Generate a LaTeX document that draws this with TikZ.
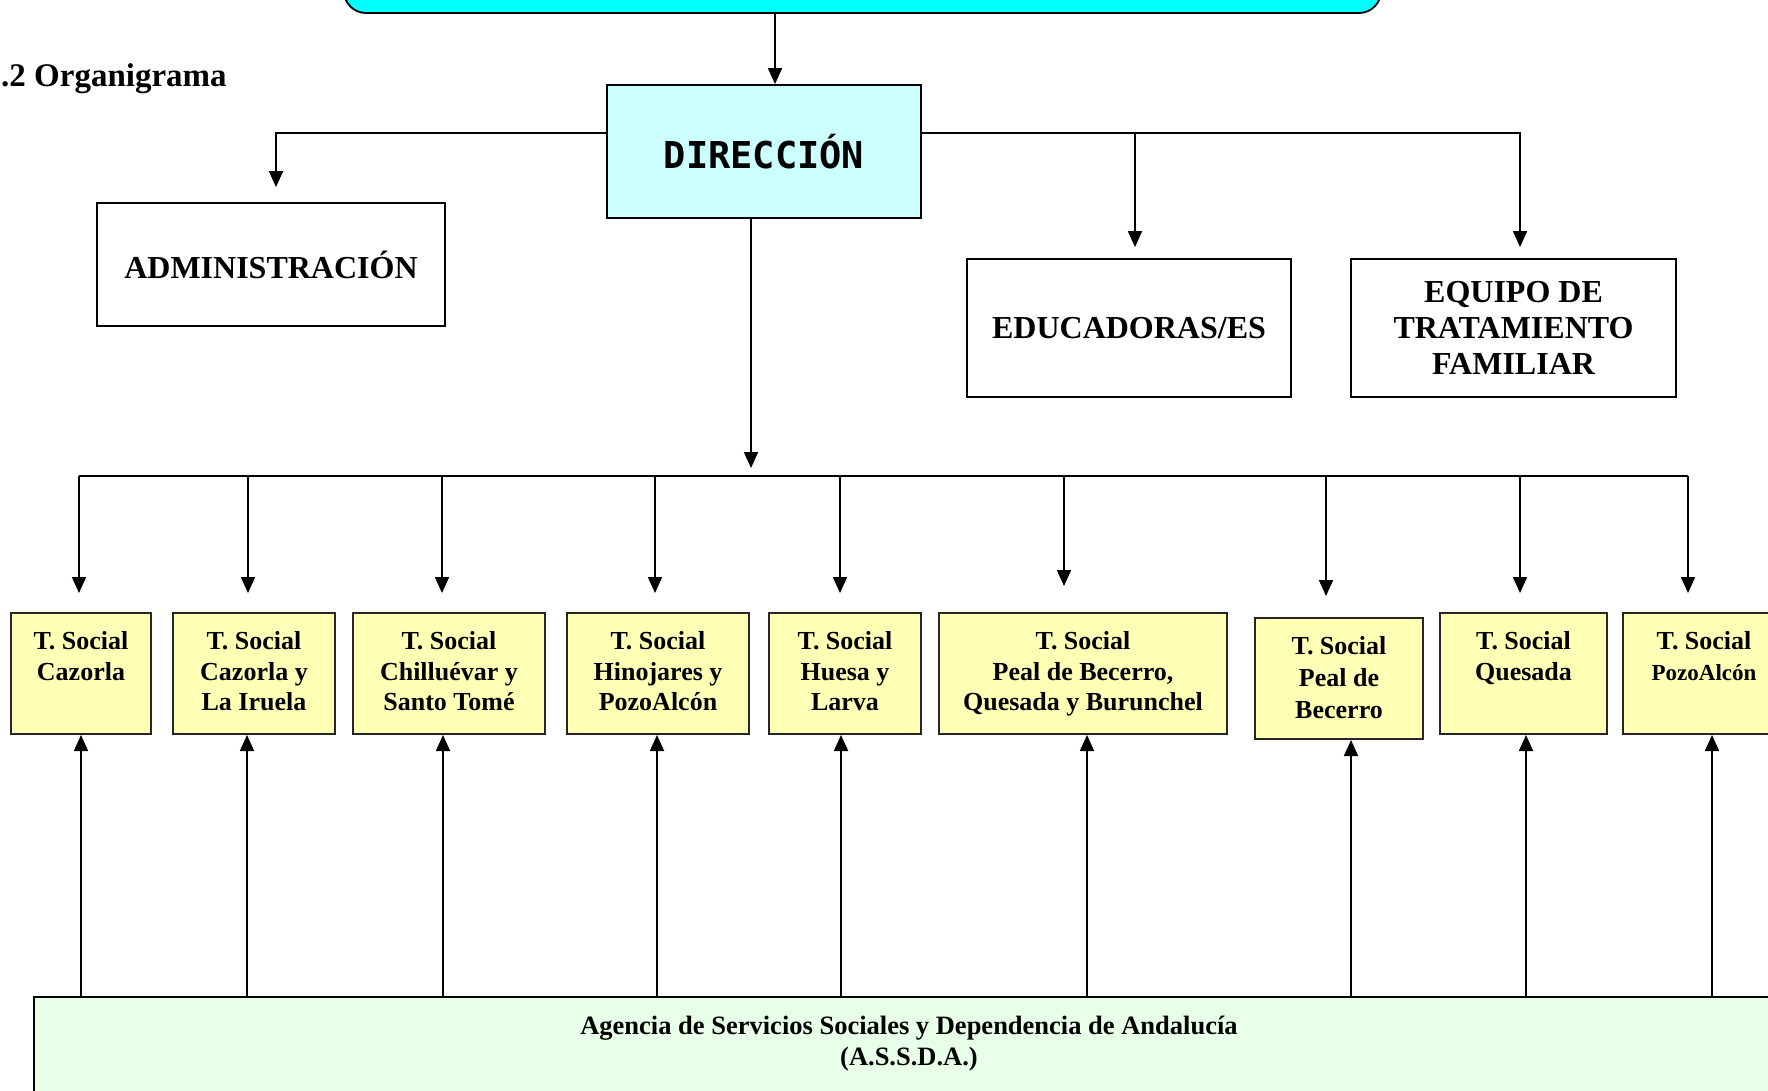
\documentclass[tikz,border=0pt]{standalone}
\usepackage{fontspec}
\setmainfont{Liberation Serif}
\newfontfamily\monofnt{DejaVu Sans Mono}
\usetikzlibrary{arrows.meta,calc}
\definecolor{topcyan}{RGB}{0,255,255}
\definecolor{dircyan}{RGB}{204,255,255}
\definecolor{tsyellow}{RGB}{255,255,182}
\definecolor{agreen}{RGB}{232,255,232}
\begin{document}
\begin{tikzpicture}[x=1pt,y=-1pt,
  box/.style={draw=black, line width=1.8pt, inner sep=0pt, align=center,
    font=\bfseries\fontsize{32}{36}\selectfont},
  tsbox/.style={draw=black!85, line width=2pt, fill=tsyellow, inner sep=0pt, minimum height=121pt},
  tstext/.style={anchor=north, inner sep=0pt, align=center, font=\bfseries\fontsize{26}{30.5}\selectfont},
  arr/.style={line width=1.8pt, -{Triangle[length=16pt,width=14pt]}},
  ln/.style={line width=1.8pt}]
\useasboundingbox (0,0) rectangle (1768,1090);
\clip (0,0) rectangle (1768,1090);

% top box
\node[draw=black, line width=1.8pt, fill=topcyan, rounded corners=22pt,
  minimum width=1037pt, minimum height=60pt] (top) at (862.5,-17) {};

\node[anchor=base west, inner sep=0pt, font=\bfseries\fontsize{33}{36}\selectfont] (title) at (1,86) {.2 Organigrama};

% direccion
\node[box, fill=dircyan, minimum width=314pt, minimum height=133pt,
  font=\monofnt\bfseries\fontsize{37}{40}\selectfont] (dir) at (764,151.5) {DIRECCIÓN};
\node[box, minimum width=348pt, minimum height=123pt] (adm) at (271,264.5) {ADMINISTRACIÓN};
\node[box, minimum width=324pt, minimum height=138pt] (edu) at (1129,328) {EDUCADORAS/ES};
\node[box, minimum width=325pt, minimum height=138pt] (eq) at (1513.5,328) {EQUIPO DE\\TRATAMIENTO\\FAMILIAR};

% connectors from top
\coordinate (ta) at (775,0);
\draw[arr] (top.south -| ta) -- (dir.north -| ta);
\coordinate (lb) at (276,133);
\coordinate (rb) at (1520,133);
\coordinate (mb) at (1135,133);
\draw[arr, shorten >=15pt] (dir.west |- lb) -- (lb) -- (lb |- adm.north);
\draw[arr, shorten >=11pt] (dir.east |- rb) -- (rb) -- (rb |- eq.north);
\draw[arr, shorten >=11pt] (mb) -- (mb |- edu.north);

% T. Social boxes
\node[tsbox, minimum width=140pt] (b1) at (81,673.5) {};
\node[tsbox, minimum width=162pt] (b2) at (254,673.5) {};
\node[tsbox, minimum width=192pt] (b3) at (449,673.5) {};
\node[tsbox, minimum width=182pt] (b4) at (658,673.5) {};
\node[tsbox, minimum width=152pt] (b5) at (845,673.5) {};
\node[tsbox, minimum width=288pt] (b6) at (1083,673.5) {};
\node[tsbox, minimum width=168pt] (b7) at (1339,678.5) {};
\node[tsbox, minimum width=167pt] (b8) at (1523.5,673.5) {};
\node[tsbox, minimum width=162pt] (b9) at (1704,673.5) {};

\node[tstext] (t1) at ($(b1.north)+(0,19.5)$) {T. Social\\Cazorla};
\node[tstext] (t2) at ($(b2.north)+(0,19.5)$) {T. Social\\Cazorla y\\La Iruela};
\node[tstext] (t3) at ($(b3.north)+(0,19.5)$) {T. Social\\Chilluévar y\\Santo Tomé};
\node[tstext] (t4) at ($(b4.north)+(0,19.5)$) {T. Social\\Hinojares y\\PozoAlcón};
\node[tstext] (t5) at ($(b5.north)+(0,19.5)$) {T. Social\\Huesa y\\Larva};
\node[tstext] (t6) at ($(b6.north)+(0,19.5)$) {T. Social\\Peal de Becerro,\\Quesada y Burunchel};
\node[tstext, font=\bfseries\fontsize{26}{32}\selectfont] (t7) at ($(b7.north)+(0,19.5)$) {T. Social\\Peal de\\Becerro};
\node[tstext] (t8) at ($(b8.north)+(0,19.5)$) {T. Social\\Quesada};
\node[tstext] (t9) at ($(b9.north)+(0,19.5)$) {T. Social\\{\fontsize{23}{27}\selectfont PozoAlcón}};

% bus
\coordinate (dd) at (751,476);
\draw[arr] (dir.south -| dd) -- ($(dd)+(0,-8)$);
\coordinate (d1) at (79,476);
\coordinate (d2) at (248,476);
\coordinate (d3) at (442,476);
\coordinate (d4) at (655,476);
\coordinate (d5) at (840,476);
\coordinate (d6) at (1064,476);
\coordinate (d7) at (1326,476);
\coordinate (d8) at (1520,476);
\coordinate (d9) at (1688,476);
\draw[ln] (d1) -- (d9);
\foreach \i in {1,2,3,4,5,8,9} {
  \draw[arr, shorten >=19pt] (d\i) -- (d\i |- b\i.north);
}
\draw[arr, shorten >=26pt] (d6) -- (d6 |- b6.north);
\draw[arr, shorten >=21pt] (d7) -- (d7 |- b7.north);

% ASSDA
\node[draw=black, line width=2pt, fill=agreen, minimum width=1750pt, minimum height=113pt, inner sep=0pt] (as) at (909,1053.5) {};
\node[anchor=north, inner sep=0pt, align=center, font=\bfseries\fontsize{26.5}{31}\selectfont] (ast) at (909,1016) {Agencia de Servicios Sociales y Dependencia de Andalucía\\(A.S.S.D.A.)};

\coordinate (u1) at (81,0);
\coordinate (u2) at (247,0);
\coordinate (u3) at (443,0);
\coordinate (u4) at (657,0);
\coordinate (u5) at (841,0);
\coordinate (u6) at (1087,0);
\coordinate (u7) at (1351,0);
\coordinate (u8) at (1526,0);
\coordinate (u9) at (1712,0);
\foreach \i in {1,...,9} {
  \draw[arr] (u\i |- as.north) -- (u\i |- b\i.south);
}
\end{tikzpicture}
\end{document}
